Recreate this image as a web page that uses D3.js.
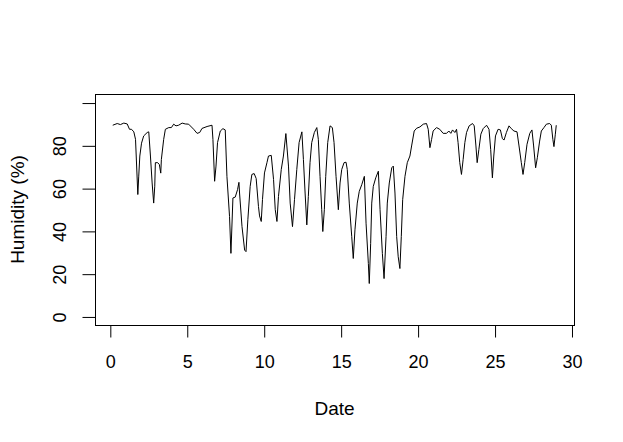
<!DOCTYPE html>
<html>
<head>
<meta charset="utf-8">
<script src="https://cdn.jsdelivr.net/npm/d3@7"></script>
<style>
  html, body { margin: 0; padding: 0; background: #fff; }
  svg { display: block; }
  text { font-family: "Liberation Sans", Arial, sans-serif; fill: #000; }
</style>
</head>
<body>
<svg id="chart" width="623" height="442"></svg>
<script>
// ---- data ----
const dates = [
  0.19,0.48,0.69,0.91,1.13,1.28,1.41,1.56,1.67,1.82,1.88,1.95,2.06,2.2,2.43,2.53,2.64,2.75,2.85,2.92,
  2.96,3.11,3.22,3.31,3.35,3.5,3.61,3.83,4.0,4.15,4.3,4.47,4.7,4.9,5.12,5.45,5.67,5.84,5.99,6.32,
  6.64,6.7,6.81,6.9,7.0,7.18,7.35,7.5,7.61,7.78,7.87,8.0,8.15,8.3,8.39,8.43,8.59,8.76,8.85,8.97,
  9.12,9.23,9.38,9.51,9.66,9.73,9.84,9.92,10.05,10.21,10.31,10.49,10.64,10.75,10.86,10.96,11.14,11.28,11.44,11.61,
  11.72,11.87,12.0,12.15,12.3,12.48,12.58,12.69,12.8,12.9,13.01,13.12,13.29,13.45,13.55,13.66,13.77,13.84,13.94,14.03,
  14.16,14.31,14.46,14.57,14.7,14.85,14.96,15.07,15.22,15.35,15.43,15.56,15.72,15.82,15.93,16.08,16.21,16.37,16.54,16.65,
  16.8,16.86,16.95,17.02,17.12,17.28,17.45,17.56,17.71,17.82,17.95,18.03,18.16,18.32,18.42,18.53,18.64,18.74,18.85,18.94,
  19.03,19.18,19.33,19.5,19.61,19.78,19.94,20.15,20.37,20.58,20.69,20.8,20.91,21.01,21.23,21.44,21.66,21.88,22.03,22.16,
  22.27,22.42,22.53,22.63,22.74,22.85,22.96,23.07,23.18,23.35,23.57,23.68,23.79,23.87,23.98,24.11,24.26,24.48,24.64,24.75,
  24.86,24.95,25.06,25.23,25.38,25.51,25.62,25.77,25.94,26.09,26.26,26.46,26.59,26.74,26.85,26.96,27.11,27.29,27.43,27.54,
  27.67,27.78,27.93,28.04,28.21,28.37,28.58,28.69,28.79,28.86,28.95,29.01
];
const humidity = [
  89.4,90.2,89.7,90.4,90,87.5,87.5,86.3,82.8,57,65.6,75,81,84.4,86,86.3,75,62.4,53,60.9,
  71.9,71.9,71,67,73.4,82.8,87.5,88.3,88.3,89.9,89.1,89.4,90.4,90,89.9,87.5,85.6,86,87.9,88.8,
  89.4,82.8,63.2,70.3,81.3,86.7,87.8,87.2,65.5,46.7,29.5,55.4,55.8,59.3,62.7,57.7,42,31,30.3,45.2,
  60.8,66.4,66.8,64.5,51.4,47,44.4,54.6,67.1,71.9,75,75.3,64,49.9,44.4,56.1,68.7,75,85.5,70.3,
  53,42,54.6,68.7,81.3,86.3,73.4,57.7,42.8,56.1,71.9,81.3,86,88.3,82.8,65.5,49.9,39.7,49.9,65.5,
  81.3,89.1,88.3,81.3,65.5,49.9,62.4,68.7,71.9,72.1,68.7,53,37.3,27.1,40.5,53,58.5,61.6,65.5,43.6,
  24.8,15.4,34.2,53,60.8,64.8,67.9,49.9,29.5,17.7,37.3,53,62.4,69.5,70.3,57.7,37.3,27.9,22.4,37.3,
  54.6,65.5,71.9,75,79.7,86.7,88,88.6,89.9,90.2,87.5,78.9,82.8,86.7,88.3,87.5,85.6,85.6,86.7,85.6,
  87.2,86,87.5,81.3,71.9,66.4,73.4,81.3,86,89.1,90.2,89.1,79.7,71.9,78,85.2,87.8,89.4,87.5,78,
  64.8,75,84.4,87.5,87.2,83.1,82.5,86,89.1,87.8,86.7,86.3,79.7,71.9,66.4,71.9,80.5,85.6,87.2,79.7,
  69.5,74.2,82,86.7,88.3,89.9,90.2,89.4,82.8,79.4,85.2,89.4
];
const xTicks = [0, 5, 10, 15, 20, 25, 30];
const yTicks = [0, 20, 40, 60, 80, 100];
const yTickLabels = ["0", "20", "40", "60", "80", ""];
const xTitle = "Date";
const yTitle = "Humidity (%)";

// ---- layout ----
const box = { left: 95, right: 574, top: 94, bottom: 325 };
const svg = d3.select("#chart");
const FS = 18;

const xmin = d3.min(dates), xmax = d3.max(dates), xr = xmax - xmin;
const x = d3.scaleLinear().domain([xmin - 0.04 * xr, xmax + 0.04 * xr]).range([box.left, box.right]);
const y = d3.scaleLinear().domain([-4, 104]).range([box.bottom, box.top]);

// line
const line = d3.line().x((d, i) => x(dates[i])).y(d => y(d));
svg.append("path")
  .datum(humidity)
  .attr("d", line)
  .attr("fill", "none")
  .attr("stroke", "#000")
  .attr("stroke-width", 1)
  .attr("stroke-linejoin", "miter");

// box
svg.append("rect")
  .attr("x", box.left + 0.5).attr("y", box.top + 0.5)
  .attr("width", box.right - box.left).attr("height", box.bottom - box.top)
  .attr("fill", "none").attr("stroke", "#000").attr("stroke-width", 1);

// x axis
const xa = svg.append("g").attr("transform", `translate(0.5,${box.bottom + 0.5})`)
  .call(d3.axisBottom(x).tickValues(xTicks).tickSize(12).tickPadding(18).tickFormat(d3.format("d")));
xa.select(".domain").attr("d", `M${x(xTicks[0])},0H${x(xTicks[xTicks.length - 1])}`);
xa.selectAll("text").attr("font-size", FS).attr("font-family", "Liberation Sans, Arial, sans-serif").attr("fill", "#000");

// y axis
const ya = svg.append("g").attr("transform", `translate(${box.left + 0.5},0.5)`)
  .call(d3.axisLeft(y).tickValues(yTicks).tickSize(13).tickFormat((d, i) => yTickLabels[i]));
ya.select(".domain").attr("d", `M0,${y(yTicks[0])}V${y(yTicks[yTicks.length - 1])}`);
ya.selectAll(".tick text")
  .attr("font-size", FS).attr("font-family", "Liberation Sans, Arial, sans-serif").attr("fill", "#000")
  .attr("x", null).attr("dy", null)
  .attr("text-anchor", "middle")
  .attr("transform", "translate(-30,0) rotate(-90)");

// titles
svg.append("text")
  .attr("x", (box.left + box.right) / 2).attr("y", 415)
  .attr("text-anchor", "middle").attr("font-size", FS + 1)
  .text(xTitle);
svg.append("text")
  .attr("transform", `translate(24,${(box.top + box.bottom) / 2}) rotate(-90)`)
  .attr("text-anchor", "middle").attr("font-size", FS + 1)
  .text(yTitle);
</script>
</body>
</html>
